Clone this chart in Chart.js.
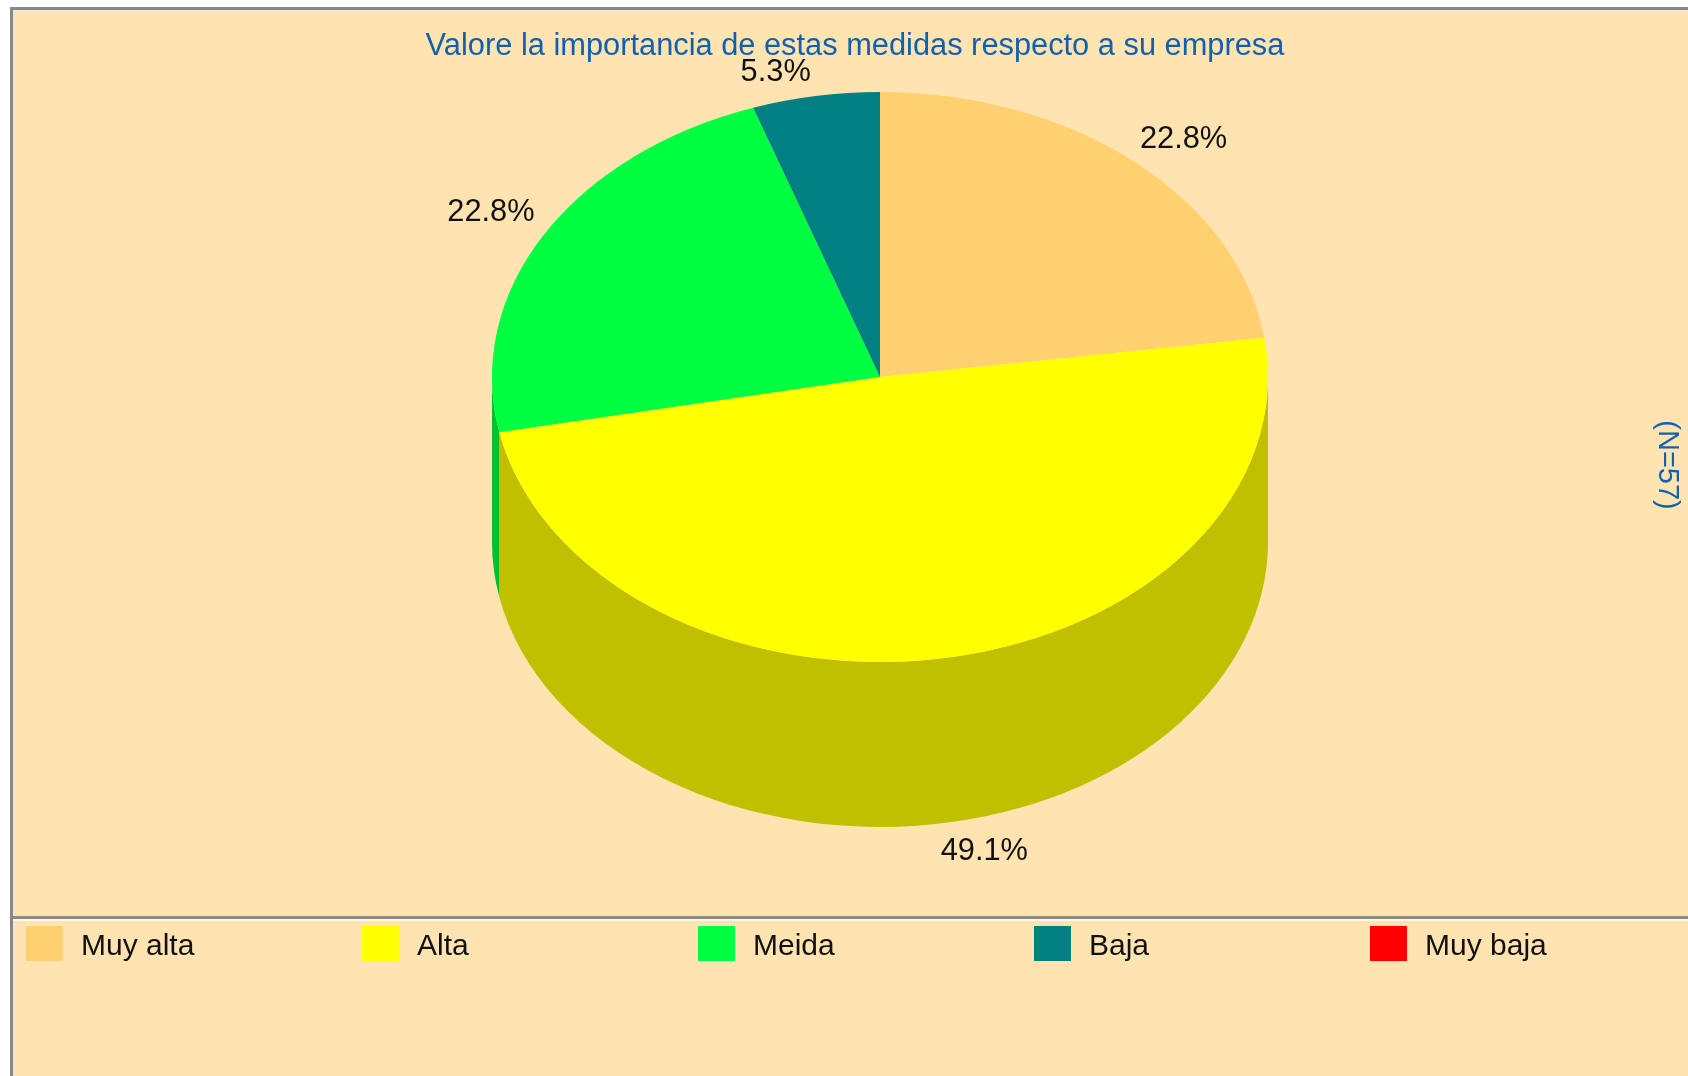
<!DOCTYPE html>
<html>
<head>
<meta charset="utf-8">
<title>Valore la importancia de estas medidas</title>
<script src="https://cdn.jsdelivr.net/npm/chart.js@4"></script>
<style>
  html, body { margin: 0; background: #fff; }
  #page { position: relative; width: 1688px; height: 1076px; overflow: hidden; }
  #panel { position: absolute; left: 10px; top: 7px; right: -10px; bottom: -10px; background: #FFE4B2;
           border-left: 3px solid #888; border-top: 3px solid #888; box-shadow: inset 2px 2px 0 #F0E6D2; }
  #divider { position: absolute; left: 13px; right: 0; top: 916px; height: 3px; background: #8C8C88; border-bottom: 2px solid #FFF8E8; }
  canvas { position: absolute; left: 0; top: 0; }
</style>
</head>
<body>
<div id="page">
  <div id="panel"></div>
  <div id="divider"></div>
  <canvas id="chart" width="1688" height="1076"></canvas>
</div>
<script>
const categories = ['Muy alta', 'Alta', 'Meida', 'Baja', 'Muy baja'];
const percents = [22.8, 49.1, 22.8, 5.3, 0];
const topColors = ['#FFD070', '#FFFF00', '#00FF40', '#008080', '#FF0000'];
const wallColors = ['#C09C54', '#C0C000', '#00C030', '#006060', '#C00000'];
const chartTitle = 'Valore la importancia de estas medidas respecto a su empresa';
const sampleNote = '(N=57)';

// pie is a flat circle to Chart.js, we squash it to an ellipse when drawing
const centerY = 377;
const squash = 285 / 388;
const depth = 165;
const FONT_FAMILY = '"Liberation Sans", Arial, sans-serif';

const pie3d = {
  id: 'pie3d',
  beforeDatasetsDraw(chart) {
    const ctx = chart.ctx;
    const arcs = chart.getDatasetMeta(0).data;
    arcs.forEach((arc, i) => {
      const a0 = Math.max(arc.startAngle, 0);
      const a1 = Math.min(arc.endAngle, Math.PI);
      if (a1 <= a0) return;
      const rx = arc.outerRadius, ry = rx * squash;
      ctx.beginPath();
      ctx.ellipse(arc.x, centerY, rx, ry, 0, a0, a1);
      ctx.ellipse(arc.x, centerY + depth, rx, ry, 0, a1, a0, true);
      ctx.closePath();
      ctx.fillStyle = wallColors[i];
      ctx.fill();
    });
    ctx.save();
    ctx.translate(0, centerY);
    ctx.scale(1, squash);
    ctx.translate(0, -arcs[0].y);
  },
  afterDatasetsDraw(chart) {
    chart.ctx.restore();
  },
  afterDraw(chart) {
    const ctx = chart.ctx;
    ctx.save();
    ctx.textAlign = 'center';
    ctx.textBaseline = 'middle';

    ctx.font = '30.8px ' + FONT_FAMILY;
    ctx.fillStyle = '#1060B0';
    ctx.fillText(chartTitle, 855, 47);
    ctx.save();
    ctx.font = '29px ' + FONT_FAMILY;
    ctx.translate(1667, 465);
    ctx.rotate(Math.PI / 2);
    ctx.fillText(sampleNote, 0, 0);
    ctx.restore();

    // percent labels sit just off the rim, by quadrant
    ctx.fillStyle = '#111';
    chart.getDatasetMeta(0).data.forEach((arc, i) => {
      if (!percents[i]) return;
      const mid = (arc.startAngle + arc.endAngle) / 2;
      const cos = Math.cos(mid), sin = Math.sin(mid);
      const x = arc.x + cos * arc.outerRadius + Math.sign(cos) * (37 + 18 * Math.abs(cos));
      const y = centerY + sin * arc.outerRadius * squash + (sin > 0 ? depth + 28 : -23);
      ctx.fillText(percents[i].toFixed(1) + '%', x, y);
    });

    // legend row
    ctx.font = '30px ' + FONT_FAMILY;
    ctx.textAlign = 'left';
    categories.forEach((name, i) => {
      const x = 26 + i * 336;
      ctx.fillStyle = topColors[i];
      ctx.fillRect(x, 926, 37, 35);
      ctx.fillStyle = '#111';
      ctx.fillText(name, x + 55, 947);
    });
    ctx.restore();
  }
};

new Chart(document.getElementById('chart'), {
  type: 'pie',
  data: {
    labels: categories,
    datasets: [{
      data: percents,
      backgroundColor: topColors,
      borderWidth: 0,
      hoverOffset: 0,
      clip: false
    }]
  },
  options: {
    responsive: false,
    animation: false,
    events: [],
    layout: { padding: { left: 492, right: 420, top: 100, bottom: 200 } },
    plugins: { legend: { display: false }, title: { display: false }, tooltip: { enabled: false } }
  },
  plugins: [pie3d]
});
</script>
</body>
</html>
